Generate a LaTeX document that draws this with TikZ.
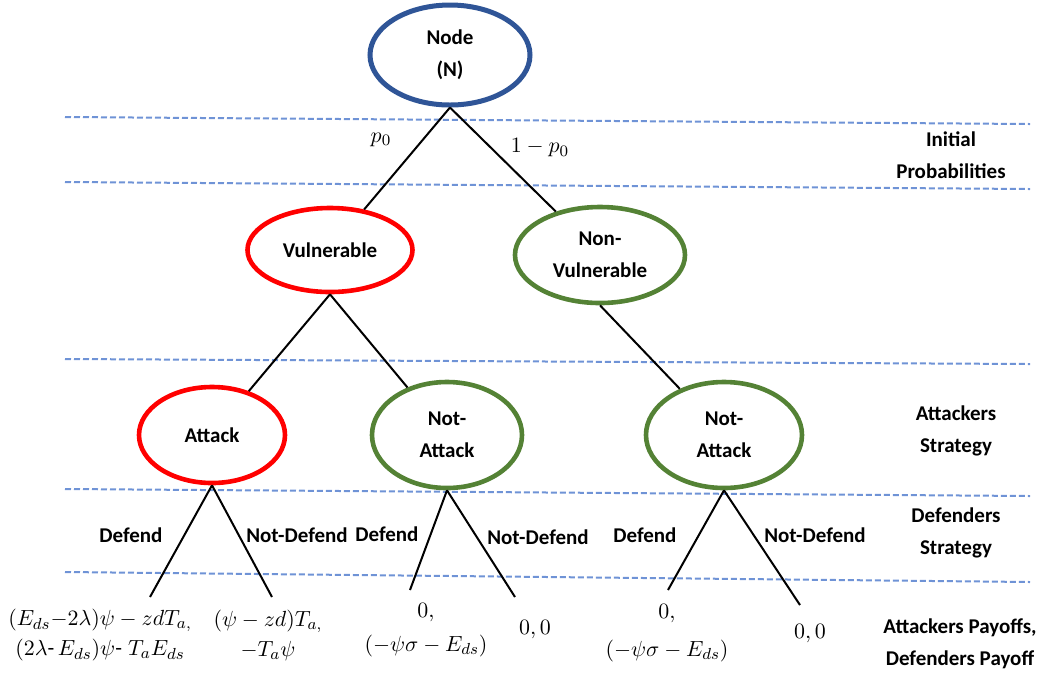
\documentclass[tikz,border=0pt]{standalone}
\usepackage{amsmath}
\usepackage{fontspec}
\setmainfont{Carlito}
\usetikzlibrary{shapes.geometric}

\definecolor{rootblue}{HTML}{2F5597}
\definecolor{vulred}{HTML}{FF0000}
\definecolor{safegreen}{HTML}{548235}
\definecolor{bandblue}{HTML}{6F93D6}

\begin{document}
\begin{tikzpicture}[x=0.5pt,y=-0.5pt,
  font=\fontsize{10.5}{16}\selectfont\bfseries,
  state/.style={ellipse, draw, line width=2.3pt, inner sep=0pt, align=center},
  rootstate/.style={state, draw=rootblue, line width=2.5pt},
  vulstate/.style={state, draw=vulred},
  safestate/.style={state, draw=safegreen},
  branch/.style={line width=1pt, black},
  band/.style={draw=bandblue, line width=1pt, dash pattern=on 3pt off 1.5pt},
  payoff/.style={align=center, font=\fontsize{11}{15}\selectfont},
  choice/.style={font=\fontsize{10.5}{12}\selectfont\bfseries},
  stage/.style={align=center, font=\fontsize{10.5}{16}\selectfont\bfseries}]

\useasboundingbox (0,0) rectangle (1046,677);

% stage separators
\coordinate (b1l) at (65,117);  \coordinate (b1r) at (1030,124);
\coordinate (b2l) at (65,182);  \coordinate (b2r) at (1030,189);
\coordinate (b3l) at (65,359);  \coordinate (b3r) at (1030,364);
\coordinate (b4l) at (65,489);  \coordinate (b4r) at (1030,496);
\coordinate (b5l) at (65,572);  \coordinate (b5r) at (1030,582);
\foreach \k in {1,...,5} \draw[band] (b\k l) -- (b\k r);

% game tree states
\node[rootstate, minimum width=80pt, minimum height=50pt] (root) at (450,55) {Node\\(N)};
\node[vulstate, minimum width=82.5pt, minimum height=42pt] (vul) at (330,250) {Vulnerable};
\node[safestate, minimum width=85pt, minimum height=48pt] (nv) at (600,255) {Non-\\Vulnerable};
\node[vulstate, minimum width=73pt, minimum height=48pt] (att) at (212,435) {Attack};
\node[safestate, minimum width=75pt, minimum height=53pt] (na1) at (447,435) {Not-\\Attack};
\node[safestate, minimum width=78pt, minimum height=53pt] (na2) at (724,435) {Not-\\Attack};

% nature and attacker moves
\draw[branch] (root.south) -- (vul);
\draw[branch] (root.south) -- (nv);
\draw[branch] (vul.south) -- (att);
\draw[branch] (vul.south) -- (na1);
\draw[branch] (nv.south) -- (na2);

\node (p0) at (381,140) {\fontsize{11}{12}\selectfont$p_0$};
\node (q0) at (540,148) {\fontsize{11}{12}\selectfont$1-p_0$};

% defender move ends
\coordinate (e1) at (150,597);
\coordinate (e2) at (272,597);
\coordinate (e3) at (410,590);
\coordinate (e4) at (515,597);
\coordinate (e5) at (668,590);
\coordinate (e6) at (800,605);

\draw[branch] (att.south) -- (e1);
\draw[branch] (att.south) -- (e2);
\draw[branch] (na1.south) -- (e3);
\draw[branch] (na1.south) -- (e4);
\draw[branch] (na2.south) -- (e5);
\draw[branch] (na2.south) -- (e6);

\node[choice] (d1) at (131,535) {Defend};
\node[choice] (n1) at (297,535) {Not-Defend};
\node[choice] (d2) at (387,534) {Defend};
\node[choice] (n2) at (538,537) {Not-Defend};
\node[choice] (d3) at (645,535) {Defend};
\node[choice] (n3) at (815,535) {Not-Defend};

% payoffs
\node[payoff] (r1) at (100,635) {$(E_{ds}{-}2\lambda)\psi-zdT_{a,}$\\$(2\lambda\text{-}\,E_{ds})\psi\text{-}\;T_aE_{ds}$};
\node[payoff] (r2) at (268,635) {$(\psi-zd)T_{a,}$\\$-T_a\psi$};
\node[payoff] (r3) at (426,630) {$0,$\\[2pt]$(-\psi\sigma-E_{ds})$};
\node[payoff] (r4) at (535,630) {$0,0$};
\node[payoff] (r5) at (667,633) {$0,$\\[4pt]$(-\psi\sigma-E_{ds})$};
\node[payoff] (r6) at (810,634) {$0,0$};

% stage names
\node[stage] (s1) at (951,155) {Initial\\Probabilities};
\node[stage] (s2) at (956,431) {Attackers\\Strategy};
\node[stage] (s3) at (956,533) {Defenders\\Strategy};
\node[stage] (s4) at (960,644) {Attackers Payoffs,\\Defenders Payoff};
\end{tikzpicture}
\end{document}
